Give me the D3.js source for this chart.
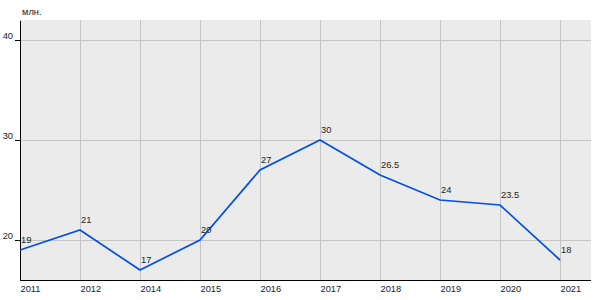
<!DOCTYPE html>
<html>
<head>
<meta charset="utf-8">
<script src="https://cdn.jsdelivr.net/npm/d3@7"></script>
<style>
  body { margin: 0; background: #fff; }
  text { font-family: Arial, "Liberation Sans", sans-serif; font-size: 9.3px; fill: #222; }
</style>
</head>
<body>
<div id="chart"></div>
<script>
const years = ["2011", "2012", "2014", "2015", "2016", "2017", "2018", "2019", "2020", "2021"];
const values = [19, 21, 17, 20, 27, 30, 26.5, 24, 23.5, 18];
const valueLabels = ["19", "21", "17", "20", "27", "30", "26.5", "24", "23.5", "18"];
const yTicks = [20, 30, 40];
const unit = "млн.";

const width = 600, height = 300;
const margin = { top: 20, right: 9, bottom: 20, left: 20 };
const fontSize = "9.3px";

const svg = d3.select("#chart")
  .append("svg")
  .attr("width", width)
  .attr("height", height);

// Point scale: first year sits on the y axis, then 60px steps
const x = d3.scalePoint()
  .domain(years)
  .range([margin.left, margin.left + 60 * (years.length - 1)]);

const y = d3.scaleLinear()
  .domain([16, 42])
  .range([height - margin.bottom, margin.top]);

// Plot background
svg.append("rect")
  .attr("x", margin.left)
  .attr("y", margin.top)
  .attr("width", width - margin.left - margin.right)
  .attr("height", height - margin.top - margin.bottom)
  .attr("fill", "#ebebeb");

// Grid lines
svg.append("g")
  .selectAll("line")
  .data(years)
  .enter()
  .append("line")
  .attr("x1", d => x(d))
  .attr("x2", d => x(d))
  .attr("y1", margin.top)
  .attr("y2", height - margin.bottom)
  .attr("stroke", "#c4c4c4")
  .attr("stroke-width", 1)
  .attr("shape-rendering", "crispEdges");

svg.append("g")
  .selectAll("line")
  .data(yTicks)
  .enter()
  .append("line")
  .attr("x1", margin.left)
  .attr("x2", width - margin.right)
  .attr("y1", d => y(d))
  .attr("y2", d => y(d))
  .attr("stroke", "#c4c4c4")
  .attr("stroke-width", 1)
  .attr("shape-rendering", "crispEdges");

// Y axis
const yAxis = svg.append("g")
  .attr("transform", "translate(" + margin.left + ",0)")
  .call(d3.axisLeft(y).tickValues(yTicks).tickSize(5).tickSizeOuter(0));
yAxis.select(".domain").attr("stroke", "#000").attr("shape-rendering", "crispEdges");
yAxis.selectAll(".tick line").attr("stroke", "#000").attr("shape-rendering", "crispEdges");
yAxis.selectAll(".tick text")
  .attr("x", -7)
  .attr("dy", "-0.15em")
  .style("font-family", "Arial, 'Liberation Sans', sans-serif")
  .style("font-size", fontSize)
  .attr("fill", "#222");

// X axis
const xAxis = svg.append("g")
  .attr("transform", "translate(0," + (height - margin.bottom) + ")")
  .call(d3.axisBottom(x).tickSize(0).tickSizeOuter(0));
xAxis.select(".domain")
  .attr("d", "M" + margin.left + ",0.5H" + (width - margin.right))
  .attr("stroke", "#000");
xAxis.selectAll(".tick text")
  .attr("y", 12)
  .attr("dy", 0)
  .attr("text-anchor", "start")
  .style("font-family", "Arial, 'Liberation Sans', sans-serif")
  .style("font-size", fontSize)
  .attr("fill", "#222");

// Line
const line = d3.line()
  .x((d, i) => x(years[i]))
  .y(d => y(d));

svg.append("path")
  .datum(values)
  .attr("d", line)
  .attr("fill", "none")
  .attr("stroke", "#0050e8")
  .attr("stroke-width", 1.7);

// Value labels
svg.append("g")
  .selectAll("text")
  .data(values)
  .enter()
  .append("text")
  .attr("x", (d, i) => x(years[i]) + 1)
  .attr("y", d => y(d) - 7)
  .text((d, i) => valueLabels[i]);

// Unit label
svg.append("text")
  .attr("x", 22)
  .attr("y", 15)
  .text(unit);
</script>
</body>
</html>
